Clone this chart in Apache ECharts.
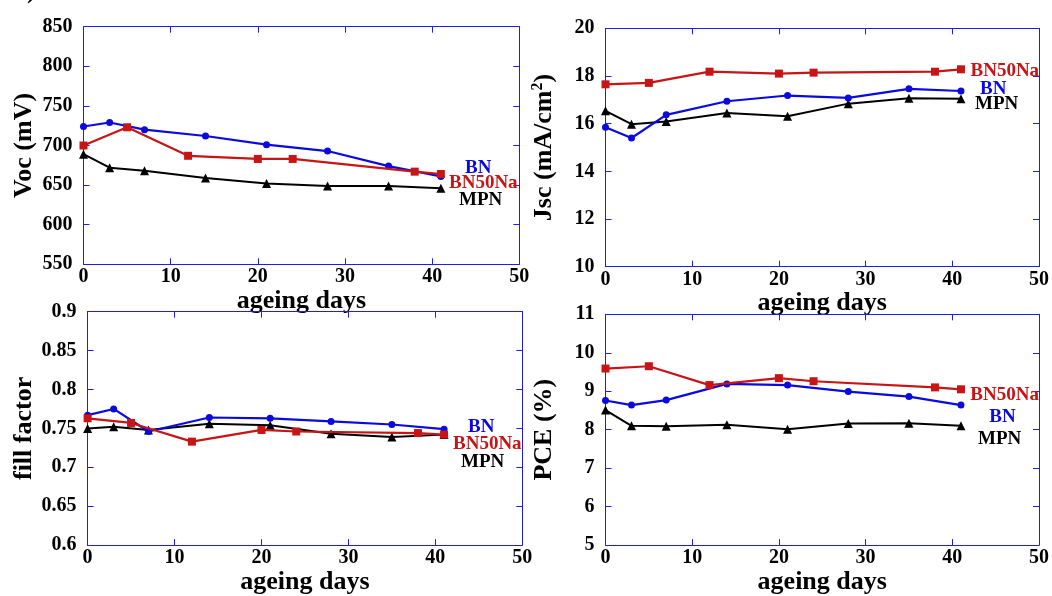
<!DOCTYPE html>
<html>
<head>
<meta charset="utf-8">
<script src="https://cdn.jsdelivr.net/npm/echarts@6/dist/echarts.min.js"></script>
<style>
html,body{margin:0;padding:0;background:#fff;}
#c{width:1052px;height:596px;}
</style>
</head>
<body>
<div id="c"></div>
<script>
// ---- data ----
const daysA = [0, 3, 7, 14, 21, 28, 35, 41];          // BN and MPN
const daysB = [0, 5, 12, 20, 24, 38, 41];             // BN50Na
const xTicks = [0, 10, 20, 30, 40, 50];

const vocBN     = [724, 729, 720, 712, 701, 693, 674, 661];
const vocBN50Na = [700, 723, 687, 683, 683, 667, 664];
const vocMPN    = [689, 672, 668, 659, 652, 649, 649, 646];

const jscBN     = [15.85, 15.40, 16.37, 16.94, 17.18, 17.08, 17.46, 17.37];
const jscBN50Na = [17.65, 17.71, 18.18, 18.10, 18.14, 18.18, 18.28];
const jscMPN    = [16.54, 15.98, 16.09, 16.45, 16.31, 16.84, 17.07, 17.04];

const ffBN      = [0.767, 0.775, 0.746, 0.764, 0.763, 0.759, 0.755, 0.749];
const ffBN50Na  = [0.763, 0.757, 0.733, 0.748, 0.746, 0.744, 0.742];
const ffMPN     = [0.750, 0.752, 0.748, 0.756, 0.754, 0.743, 0.739, 0.742];

const pceBN     = [8.76, 8.64, 8.77, 9.19, 9.16, 8.99, 8.86, 8.64];
const pceBN50Na = [9.59, 9.65, 9.16, 9.34, 9.26, 9.10, 9.05];
const pceMPN    = [8.51, 8.10, 8.09, 8.13, 8.01, 8.16, 8.17, 8.10];

const seriesNames = ['BN', 'BN50Na', 'MPN'];
const yTitles = ['Voc (mV)', '{a|Jsc (mA/cm}{s|2}{a|)}', 'fill factor', 'PCE (%)'];
const xTitle = 'ageing days';
const yRanges = [[550, 850, 50], [10, 20, 2], [0.6, 0.9, 0.05], [5, 11, 1]];

// ---- styles ----
const FONT = '"Liberation Serif", "Times New Roman", serif';
const AX = '#1e1ee8';
const C_BN = '#0a0ae0', C_NA = '#c81414', C_MPN = '#000000';

const grids = [
  {left: 83.5, top: 26.7, width: 435.8, height: 237.6},
  {left: 605.5, top: 28.3, width: 434.7, height: 238.4},
  {left: 87.6, top: 311.7, width: 434.7, height: 237.6},
  {left: 605.5, top: 314.3, width: 434.7, height: 239}
];
const xNameGaps = [17, 17, 19, 17];
const yNameGaps = [46, 46, 48, 48];

const panels = [
  [vocBN, vocBN50Na, vocMPN],
  [jscBN, jscBN50Na, jscMPN],
  [ffBN, ffBN50Na, ffMPN],
  [pceBN, pceBN50Na, pceMPN]
];

const pair = (xs, ys) => xs.map((x, i) => [x, ys[i]]);

const xAxes = [], yAxes = [], series = [];
grids.forEach((g, k) => {
  const [ymin, ymax, yint] = yRanges[k];
  const baseX = {
    gridIndex: k, type: 'value', min: 0, max: 50, interval: 10,
    axisLine: {show: true, onZero: false, lineStyle: {color: AX, width: 1}},
    axisTick: {show: true, inside: true, length: 6, lineStyle: {color: AX, width: 1}},
    splitLine: {show: false}
  };
  xAxes.push(Object.assign({}, baseX, {
    position: 'bottom',
    axisLabel: {show: true, margin: 3, color: '#000', fontFamily: FONT, fontWeight: 'bold', fontSize: 20},
    name: xTitle, nameLocation: 'middle', nameGap: xNameGaps[k],
    nameTextStyle: {color: '#000', fontFamily: FONT, fontWeight: 'bold', fontSize: 26}
  }));
  xAxes.push(Object.assign({}, baseX, {position: 'top', axisLabel: {show: false}}));
  const baseY = {
    gridIndex: k, type: 'value', min: ymin, max: ymax, interval: yint,
    axisLine: {show: true, onZero: false, lineStyle: {color: AX, width: 1}},
    axisTick: {show: true, inside: true, length: 6, lineStyle: {color: AX, width: 1}},
    splitLine: {show: false}
  };
  yAxes.push(Object.assign({}, baseY, {
    position: 'left',
    axisLabel: {show: true, margin: 11, color: '#000', fontFamily: FONT, fontWeight: 'bold', fontSize: 20},
    name: yTitles[k], nameLocation: 'middle', nameRotate: 90, nameGap: yNameGaps[k],
    nameTextStyle: {
      color: '#000', fontFamily: FONT, fontWeight: 'bold', fontSize: 26,
      rich: {
        a: {color: '#000', fontFamily: FONT, fontWeight: 'bold', fontSize: 26},
        s: {color: '#000', fontFamily: FONT, fontWeight: 'bold', fontSize: 16, padding: [0, 0, 14, 0]}
      }
    }
  }));
  yAxes.push(Object.assign({}, baseY, {position: 'right', axisLabel: {show: false}}));

  const [sBN, sNA, sMPN] = panels[k];
  const xi = k * 2, yi = k * 2;
  series.push({
    name: 'MPN', type: 'line', xAxisIndex: xi, yAxisIndex: yi, data: pair(daysA, sMPN),
    symbol: 'triangle', symbolSize: 9, lineStyle: {color: C_MPN, width: 2},
    itemStyle: {color: C_MPN}, z: 3, animation: false
  });
  series.push({
    name: 'BN', type: 'line', xAxisIndex: xi, yAxisIndex: yi, data: pair(daysA, sBN),
    symbol: 'circle', symbolSize: 7, lineStyle: {color: C_BN, width: 2.2},
    itemStyle: {color: C_BN}, z: 4, animation: false
  });
  series.push({
    name: 'BN50Na', type: 'line', xAxisIndex: xi, yAxisIndex: yi, data: pair(daysB, sNA),
    symbol: 'rect', symbolSize: 8, lineStyle: {color: C_NA, width: 2.2},
    itemStyle: {color: C_NA}, z: 5, animation: false
  });
});

// series name labels (end annotations)
const labelPos = [
  [['BN', 465, 168, C_BN], ['BN50Na', 449, 183.5, C_NA], ['MPN', 459, 200, C_MPN]],
  [['BN50Na', 970.5, 70.7, C_NA], ['BN', 980, 89.3, C_BN], ['MPN', 975, 104.3, C_MPN]],
  [['BN', 468, 426.7, C_BN], ['BN50Na', 453, 444, C_NA], ['MPN', 461, 461.7, C_MPN]],
  [['BN50Na', 970.3, 395, C_NA], ['BN', 989.3, 417.3, C_BN], ['MPN', 978, 439, C_MPN]]
];
const graphics = [];
labelPos.forEach(p => p.forEach(([t, x, y, c]) => {
  graphics.push({type: 'text', x: x, y: y, z: 10, style: {
    text: t, fill: c, font: 'bold 19px ' + FONT, align: 'left', verticalAlign: 'middle'
  }});
}));
graphics.push({type: 'text', x: 14, y: 4, style: {
  text: 'a)', fill: '#000', font: 'bold 26px ' + FONT, align: 'left', verticalAlign: 'bottom'
}});

const chart = echarts.init(document.getElementById('c'), null, {renderer: 'canvas'});
chart.setOption({
  animation: false,
  backgroundColor: '#ffffff',
  grid: grids.map(g => Object.assign({containLabel: false}, g)),
  xAxis: xAxes,
  yAxis: yAxes,
  series: series,
  graphic: graphics
});
</script>
</body>
</html>
